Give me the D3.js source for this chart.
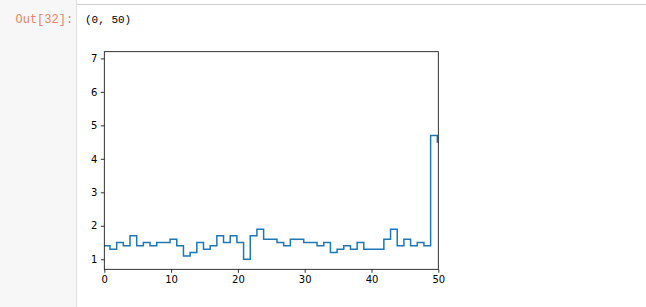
<!DOCTYPE html>
<html>
<head>
<meta charset="utf-8">
<script src="https://cdn.jsdelivr.net/npm/d3@7"></script>
<style>
  body { margin: 0; background: #fff; }
  svg { display: block; }
</style>
</head>
<body>
<div id="chart"></div>
<script>
// step values, one per unit step
var stepValues = [1.4, 1.3, 1.5, 1.4, 1.7, 1.4, 1.5, 1.4, 1.5, 1.5,
                  1.6, 1.4, 1.1, 1.2, 1.5, 1.3, 1.4, 1.7, 1.5, 1.7,
                  1.5, 1.0, 1.7, 1.9, 1.6, 1.6, 1.5, 1.4, 1.6, 1.6,
                  1.5, 1.5, 1.4, 1.5, 1.2, 1.3, 1.4, 1.3, 1.5, 1.3,
                  1.3, 1.3, 1.6, 1.9, 1.4, 1.6, 1.4, 1.5, 1.4, 4.7,
                  4.5];
var stepStart = -0.15;   // where the first step begins
var xTicks = [0, 10, 20, 30, 40, 50];
var yTicks = [1, 2, 3, 4, 5, 6, 7];
var xLim = [0, 50];
var yLim = [0.7, 7.2];
var promptText = "Out[32]:";
var outText = "(0, 50)";

var W = 646, H = 307;
var margin = {top: 51.7, right: W - 438.3, bottom: H - 269.3, left: 104.3};
var width = W - margin.left - margin.right;
var height = H - margin.top - margin.bottom;

var svg = d3.select('#chart').append('svg')
    .attr('width', W)
    .attr('height', H);

// notebook chrome
svg.append('rect').attr('x', 0).attr('y', 0).attr('width', 76).attr('height', H).attr('fill', '#f7f7f7');
svg.append('line').attr('x1', 76.5).attr('x2', 76.5).attr('y1', 0).attr('y2', H).attr('stroke', '#e0e0e0');
svg.append('line').attr('x1', 77).attr('x2', W).attr('y1', 4.5).attr('y2', 4.5).attr('stroke', '#cfcfcf');

svg.append('text')
    .attr('x', 15.5).attr('y', 23)
    .attr('font-family', 'Liberation Mono, monospace')
    .attr('font-size', '12px')
    .attr('fill', '#e0866a')
    .text(promptText);

svg.append('text')
    .attr('x', 85).attr('y', 23)
    .attr('font-family', 'Liberation Mono, monospace')
    .attr('font-size', '11px')
    .attr('fill', '#000')
    .text(outText);

var g = svg.append('g')
    .attr('transform', `translate(${margin.left}, ${margin.top})`);

var x = d3.scaleLinear().domain(xLim).range([0, width]);
var y = d3.scaleLinear().domain(yLim).range([height, 0]);

g.append('defs').append('clipPath').attr('id', 'axclip')
  .append('rect').attr('x', 0).attr('y', 0).attr('width', width).attr('height', height);

var line = d3.line()
    .x((d, i) => x(stepStart + i))
    .y(d => y(d))
    .curve(d3.curveStepAfter);

// extend last step past the right edge so it gets clipped like matplotlib
var pts = stepValues.concat([stepValues[stepValues.length - 1]]);

g.append('path')
    .datum(pts)
    .attr('clip-path', 'url(#axclip)')
    .attr('fill', 'none')
    .attr('stroke', '#1f77b4')
    .attr('stroke-width', 1.5)
    .attr('d', line);

// axes
var xAxis = g.append('g')
    .attr('transform', `translate(0, ${height})`)
    .call(d3.axisBottom(x).tickValues(xTicks).tickSize(3.5).tickPadding(3.5).tickFormat(d3.format('d')));
var yAxis = g.append('g')
    .call(d3.axisLeft(y).tickValues(yTicks).tickSize(3.5).tickPadding(3.5).tickFormat(d3.format('d')));

[xAxis, yAxis].forEach(function(a) {
  a.select('.domain').remove();
  a.selectAll('.tick line').attr('stroke', '#000').attr('stroke-width', 0.8);
  a.selectAll('.tick text')
    .attr('font-family', 'DejaVu Sans, sans-serif')
    .attr('font-size', '10px')
    .attr('fill', '#000');
});

// frame
g.append('rect')
    .attr('x', 0).attr('y', 0)
    .attr('width', width).attr('height', height)
    .attr('fill', 'none')
    .attr('stroke', '#000')
    .attr('stroke-width', 0.8);
</script>
</body>
</html>
